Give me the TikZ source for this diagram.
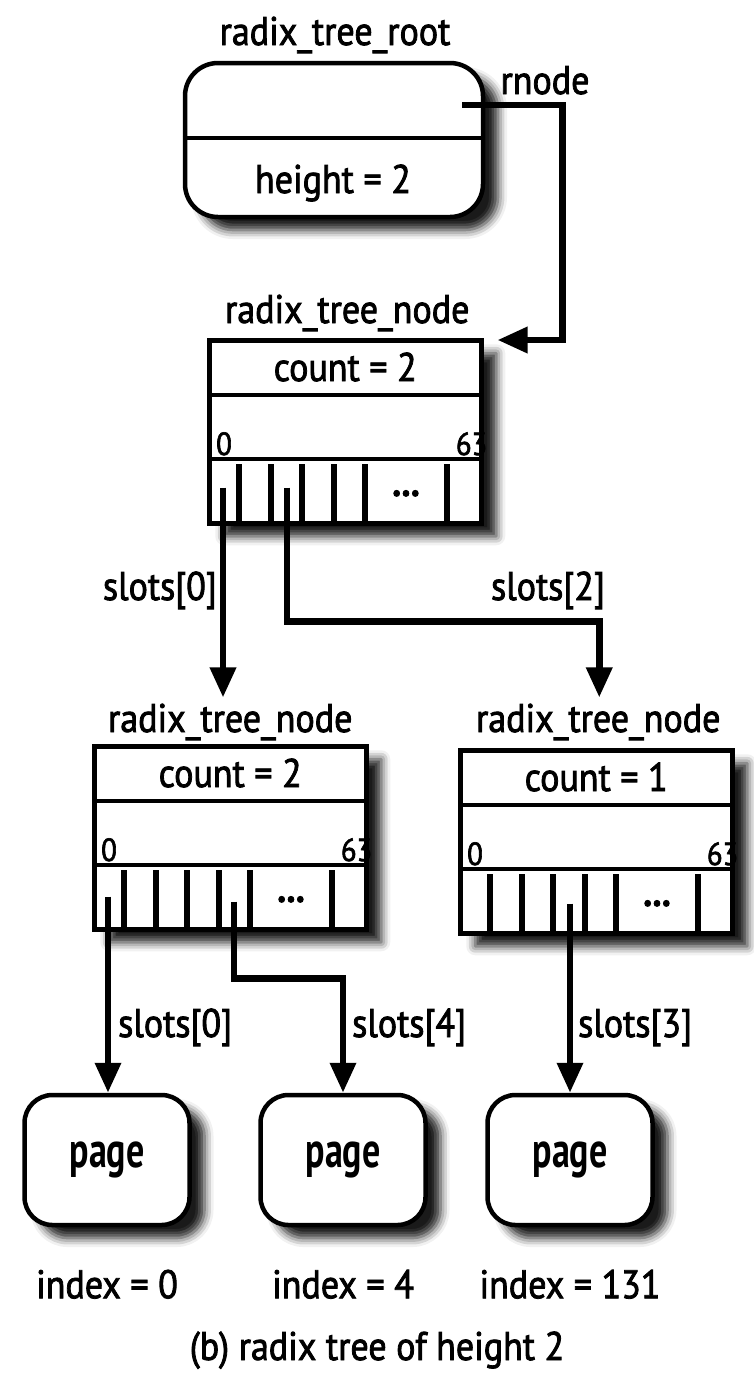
\documentclass[tikz,border=0pt]{standalone}
\usepackage{fontspec}
\setmainfont{PT Sans}[FakeStretch=0.9, FakeBold=2]
\newfontfamily\pagefont{PT Sans}[FakeStretch=0.72]
\usetikzlibrary{arrows.meta,calc,shadows.blur}

\begin{document}
\begin{tikzpicture}[x=1pt,y=-1pt,
  txt/.style={font=\fontsize{40}{46}\selectfont, inner sep=0pt},
  small/.style={font=\fontsize{32}{36}\selectfont, inner sep=0pt},
  pagetxt/.style={font=\pagefont\bfseries\fontsize{50}{56}\selectfont},
  shade/.style={blur shadow={shadow xshift=15pt, shadow yshift=-13pt,
      shadow blur radius=9pt, shadow opacity=90}},
  rec/.style={draw, line width=4.5pt, fill=white, shade, inner sep=0pt,
      anchor=north west, minimum width=272pt, minimum height=183pt},
  rootbox/.style={draw, line width=4.5pt, fill=white, shade, inner sep=0pt,
      rounded corners=33pt, minimum width=298pt, minimum height=154pt},
  pagebox/.style={draw, line width=4.5pt, fill=white, shade, inner sep=0pt,
      rounded corners=28pt, minimum width=165pt, minimum height=130pt, pagetxt},
  sep/.style={line width=4.5pt},
  cellline/.style={line width=5.5pt},
  ptr/.style={line width=6.5pt, -{Triangle[length=30pt,width=25pt]}}
]
\useasboundingbox (0,0) rectangle (754,1376);

% ---------- root ----------
\node[txt, anchor=base] (troot) at (335,45) {radix\_tree\_root};
\node[rootbox] (root) at (334,140) {};
\draw[sep] ([yshift=2pt]root.west) -- ([yshift=2pt]root.east);
\node[txt, anchor=base] (rheight) at (333,193) {height = 2};
\node[txt, anchor=base] (rnodelbl) at (545,94) {rnode};
\coordinate (rp) at ($(root.east)+(-23,-35)$);

% ---------- tree nodes ----------
% n1: top level, n2: lower left, n3: lower right
\node[rec] (n1) at (207,338) {};
\node[rec] (n2) at (92,744) {};
\node[rec] (n3) at (458,748) {};

\foreach \n/\c in {n1/count = 2, n2/count = 2, n3/count = 1}{
  \draw[sep] ([yshift=-57pt]\n.north west) -- ([yshift=-57pt]\n.north east);
  \draw[sep] ([yshift=-121pt]\n.north west) -- ([yshift=-121pt]\n.north east);
  \foreach \dx in {32,64,95,127,158,240}
    \draw[cellline] ([xshift=\dx pt]\n.south west) -- ([xshift=\dx pt, yshift=62pt]\n.south west);
  \node[txt, anchor=base] (\n cnt) at ($(\n.north)+(0,43)$) {\c};
  \node[small, anchor=base west] (\n lo) at ($(\n.north west)+(9,117)$) {0};
  \node[small, anchor=base east] (\n hi) at ($(\n.north east)+(4,117)$) {63};
  \node[txt, anchor=base] (\n dots) at ($(\n.north west)+(199,158)$) {\textbf{...}};
}

\node[txt, anchor=base] (t1) at ($(n1.north)+(2,-15)$) {radix\_tree\_node};
\node[txt, anchor=base] (t2) at ($(n2.north)+(0,-12)$) {radix\_tree\_node};
\node[txt, anchor=base] (t3) at ($(n3.north)+(2,-16)$) {radix\_tree\_node};

% slot pointer origins
\coordinate (n1s0) at ($(n1.south west)+(16,-38)$);
\coordinate (n1s2) at ($(n1.south west)+(80,-38)$);
\coordinate (n2s0) at ($(n2.south west)+(16,-35)$);
\coordinate (n2s4) at ($(n2.south west)+(142,-30)$);
\coordinate (n3s3) at ($(n3.south west)+(112,-32)$);

% ---------- pages ----------
\node[pagebox] (pg1) at (107,1160) {page};
\node[pagebox] (pg2) at (343,1160) {page};
\node[pagebox] (pg3) at (570,1160) {page};

\node[txt, anchor=base] (i1) at ($(pg1.south)+(0,71)$) {index = 0};
\node[txt, anchor=base] (i2) at ($(pg2.south)+(0,71)$) {index = 4};
\node[txt, anchor=base] (i3) at ($(pg3.south)+(0,71)$) {index = 131};

\node[txt, anchor=base] (cap) at (377,1360) {(b) radix tree of height 2};

% ---------- pointers ----------
\draw[ptr] (rp) -- ++(100,0) |- ($(n1.north east)+(14,2)$);

\draw[ptr] (n1s0) -- ($(n1s0 |- t2.north)+(0,-6)$);
\draw[ptr] (n1s2) -- ++(0,134) -| ($(t3.north)+(1,-6)$);
\node[txt, anchor=base east] (l10) at (217,600) {slots[0]};
\node[txt, anchor=base] (l12) at (548,600) {slots[2]};

\draw[ptr] (n2s0) -- (n2s0 |- pg1.north);
\draw[ptr] (n2s4) -- ++(0,77) -| (pg2.north);
\draw[ptr] (n3s3) -- (n3s3 |- pg3.north);
\node[txt, anchor=base west] (l20) at (118,1037) {slots[0]};
\node[txt, anchor=base west] (l24) at (352,1037) {slots[4]};
\node[txt, anchor=base west] (l33) at (578,1037) {slots[3]};
\end{tikzpicture}
\end{document}
